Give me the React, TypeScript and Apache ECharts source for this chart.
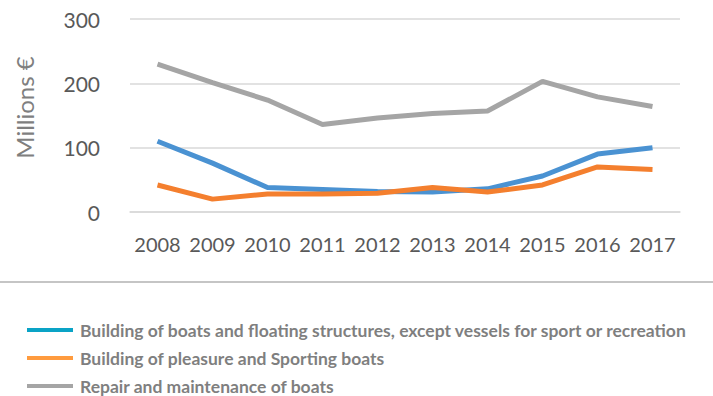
import React, { useEffect, useRef } from "react";
import * as echarts from "echarts";

const years = ["2008", "2009", "2010", "2011", "2012", "2013", "2014", "2015", "2016", "2017"];
const buildingBoats = [110, 76, 38, 35, 32, 31, 36, 56, 90, 100];
const pleasureBoats = [42, 20, 28, 28, 29, 38, 31, 42, 70, 66];
const repairBoats = [230, 201, 174, 136, 146, 153, 157, 203, 179, 164];
const seriesNames = [
  "Building of boats and floating structures, except vessels for sport or recreation",
  "Building of pleasure and Sporting boats",
  "Repair and maintenance of boats",
];
const lineColors = ["#4a92d2", "#f47f2e", "#a5a5a5"];
const legendColors = ["#0aa3c6", "#ff9b3e", "#a5a5a5"];

export default function App() {
  const ref = useRef<HTMLDivElement>(null);
  useEffect(() => {
    document.body.style.margin = "0";
    const chart = echarts.init(ref.current!, undefined, { renderer: "svg" });
    const data = [buildingBoats, pleasureBoats, repairBoats];
    const legendGraphics: any[] = [];
    seriesNames.forEach((n, i) => {
      const cy = 330 + i * 28;
      legendGraphics.push({
        type: "rect",
        shape: { x: 27, y: cy - 2, width: 46, height: 4 },
        style: { fill: legendColors[i] },
      });
      legendGraphics.push({
        type: "text",
        x: 80,
        y: cy,
        style: {
          text: n,
          fill: "#7f7f7f",
          font: "bold 17.5px Lato",
          verticalAlign: "middle",
          align: "left",
        },
      });
    });
    chart.setOption({
      animation: false,
      backgroundColor: "#ffffff",
      textStyle: { fontFamily: "Lato" },
      grid: { left: 130, right: 33, top: 19, bottom: 184 },
      xAxis: {
        type: "category",
        data: years,
        boundaryGap: true,
        axisLine: { show: true, lineStyle: { color: "#d9d9d9", width: 1.5 } },
        axisTick: { show: false },
        axisLabel: { color: "#595959", fontSize: 20, margin: 22, interval: 0, fontFamily: "Lato" },
      },
      yAxis: {
        type: "value",
        min: 0,
        max: 300,
        interval: 100,
        name: "Millions €",
        nameLocation: "middle",
        nameRotate: 90,
        nameGap: 94,
        nameTextStyle: { color: "#7f7f7f", fontSize: 24, fontFamily: "Lato", padding: [0, 0, 0, 16] },
        axisLine: { show: false },
        axisTick: { show: false },
        axisLabel: { color: "#595959", fontSize: 21, margin: 30, fontFamily: "Lato" },
        splitLine: { lineStyle: { color: "#d9d9d9", width: 1.5 } },
      },
      legend: { show: false },
      graphic: [
        {
          type: "line",
          shape: { x1: 0, y1: 282, x2: 713, y2: 282 },
          style: { stroke: "#8c8c8c", lineWidth: 1.2 },
        },
        ...legendGraphics,
      ],
      series: seriesNames.map((n, i) => ({
        name: n,
        type: "line",
        data: data[i],
        symbol: "none",
        lineStyle: { color: lineColors[i], width: 5 },
        itemStyle: { color: lineColors[i] },
      })),
    });
    return () => chart.dispose();
  }, []);
  return <div ref={ref} style={{ width: 713, height: 396 }} />;
}
